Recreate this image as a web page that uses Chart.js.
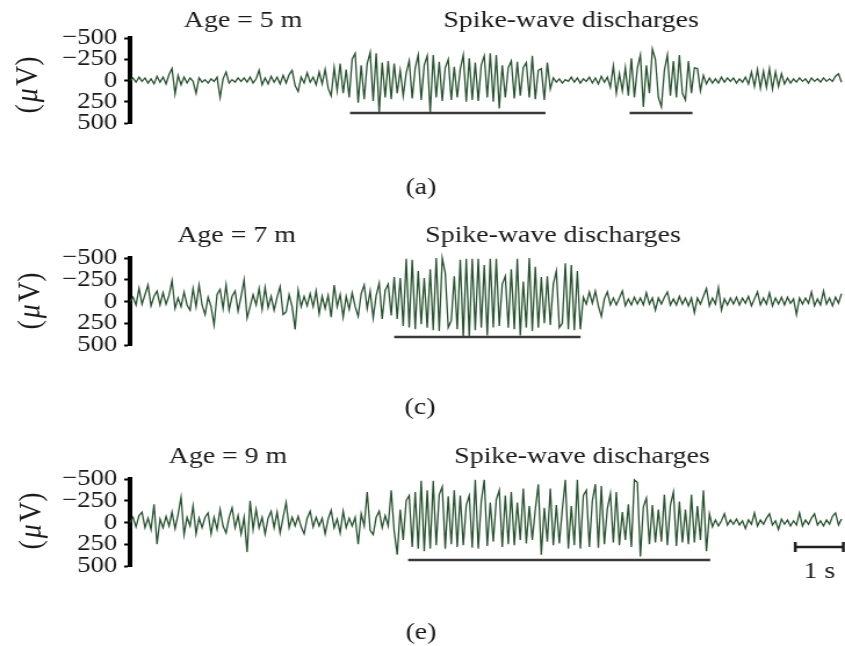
<!DOCTYPE html>
<html>
<head>
<meta charset="utf-8">
<script src="https://cdn.jsdelivr.net/npm/chart.js@4.4.1/dist/chart.umd.min.js"></script>
<style>
  html, body { margin: 0; padding: 0; background: #fff; width: 845px; height: 646px; overflow: hidden; }
  .panel { position: absolute; left: 0; width: 728px; transform: scaleX(1.16071); transform-origin: 0 0; }
  canvas { display: block; }
</style>
</head>
<body>
<div class="panel" style="top:0px;height:215px"><canvas id="ca" width="728" height="215"></canvas></div>
<div class="panel" style="top:215px;height:220px"><canvas id="cc" width="728" height="220"></canvas></div>
<div class="panel" style="top:435px;height:211px"><canvas id="ce" width="728" height="211"></canvas></div>
<script>
// ---- data (µV, sampled every dt seconds; negative = upward deflection) ----
const dt = 0.0625;
const yTicks = [-500, -250, 0, 250, 500];
const panelLetters = ['(a)', '(c)', '(e)'];
const ageLabels = ['Age = 5 m', 'Age = 7 m', 'Age = 9 m'];
const swdLabel = 'Spike-wave discharges';
const swdWindowsA = [[4.58, 8.65], [10.40, 11.71]];
const swdWindowsC = [[5.50, 9.38]];
const swdWindowsE = [[5.79, 12.08]];
const scaleBarLabel = '1 s';
const scaleBarSeconds = 1;

const eeg5m = [
  0, -30, 20, -40, 10, -30, 30, -20, 40, -50,
  20, -40, 40, -70, -140, 160, -60, 50, -40, 30,
  -30, 10, 150, -30, 20, -10, 30, -20, 10, -40,
  200, -20, -100, 30, -10, 20, -30, 10, -30, 20,
  -40, 30, -20, -120, 50, -30, 40, -50, 20, -40,
  40, -60, 30, -70, -120, 60, 130, -40, 30, -90,
  20, -40, 50, -100, 40, -130, 90, 180, -150, 120,
  -200, 150, -130, 200, -250, -320, 260, -180, 220, -200,
  -330, 240, -320, 380, -210, 200, -230, 220, -200, 150,
  -120, 180, -90, -230, 210, -150, -300, 230, -180, -290,
  380, -300, 200, -220, 240, -150, -250, 230, -160, 200,
  -130, -300, 250, -260, 230, -210, 240, -180, -290, 200,
  -320, 250, -300, 330, -180, 200, -150, -230, 210, -220,
  180, -150, -210, 200, -290, 220, -120, -140, 230, -210,
  100, -30, 20, -20, 30, -10, 10, -40, 20, -30,
  30, -20, 10, -40, 30, -30, 40, -50, 20, -40,
  80, -170, 150, -80, 120, -150, 180, -260, 200, -150,
  -300, 310, -180, 150, -370, -250, 200, 310, -120, -300,
  180, -230, 200, -300, 150, 230, -230, 150, -150, -140,
  120, -60, 40, -30, 30, -20, 30, -40, 20, -30,
  10, -30, 30, -20, 20, -40, 40, -100, 70, -130,
  90, -110, 80, -140, 100, -100, 70, -80, 40, -30,
  30, -20, 20, -30, 10, -20, 30, -30, 10, -20,
  20, -30, 10, -20, 10, -50, -80, 20
];

const eeg7m = [
  0, -50, 40, -150, 30, -80, -190, 50, -60, -120,
  40, -100, 30, -70, -240, 80, -40, 60, -110, 40,
  100, -150, 60, -190, 40, 150, -50, 60, 270, -80,
  -140, 80, -190, 100, -60, -120, 110, -60, -250, 190,
  60, -80, 40, -150, 90, -160, 70, -60, 100, -50,
  -170, 150, 120, -80, 60, 320, -130, 60, -60, 50,
  -90, 60, -120, 140, -60, 80, -70, 180, -190, 60,
  -80, 180, -60, 90, -100, 60, 170, -90, -190, 80,
  -120, 190, -70, -210, 200, -130, -200, 160, -280, 200,
  -270, 280, -490, 300, -480, 320, -350, 260, -270, 300,
  -370, 330, -500, 340, -500, -330, 300, 220, -290, 320,
  -480, 410, -490, 400, -490, 330, -490, 300, -420, 390,
  -490, 300, -490, 280, -200, -290, 300, -370, 320, -490,
  390, -230, 300, -500, 340, -400, 300, -280, 250, -290,
  270, -200, -350, 300, 250, -440, 320, -420, 330, -350,
  320, -50, 30, -110, 20, -120, 50, 170, -30, -110,
  40, -40, 40, -40, -120, 50, -30, 40, -50, 30,
  -40, 40, -100, 30, -40, 100, -40, 30, -50, -110,
  40, -30, 40, -60, 30, -40, 50, -40, 130, -40,
  30, -60, -150, 50, -40, 30, -160, 100, -30, 40,
  -40, 30, -50, 40, -40, 20, -60, 50, -30, -110,
  40, -40, 30, -100, 50, -40, 30, -50, 40, -50,
  20, -30, 150, -40, 30, -40, 20, -110, 50, -30,
  40, -120, 30, -40, 50, -50, 20, -90
];

const eeg9m = [
  0, -60, 50, -80, -120, 60, -50, 80, -210, 250,
  -40, 60, -70, 40, -120, 70, -90, -290, 140, -60,
  40, -190, 130, -50, 60, -60, -110, 130, -60, 80,
  -150, 40, 120, -60, -170, 60, -80, 130, -60, 340,
  -250, 80, -150, 60, -60, 130, -50, -130, 60, -120,
  120, -60, -230, 60, -60, 40, -70, 50, 130, -50,
  -130, 50, -60, 40, -50, 130, -40, -140, 60, -40,
  120, -130, 60, -50, 40, -60, 250, -100, 40, -350,
  90, 140, -60, -130, 60, -80, 40, -370, 100, 370,
  -150, 200, -250, -310, 280, -350, 300, -480, 330, -370,
  300, -480, 260, -320, -410, 300, -300, 250, -370, 280,
  -310, 260, -200, -310, 290, -490, 300, -240, -490, 270,
  -230, 220, -260, -370, 280, -310, 250, -350, 260, -230,
  200, -390, 240, -190, 200, -150, -440, 370, -170, 220,
  -390, 260, -200, 240, -150, -490, 300, -190, 260, -490,
  300, -310, -370, 280, -250, -440, 290, -420, 250, -160,
  -330, 230, -350, 260, -120, 200, -210, 280, -490, -460,
  390, -180, -280, 250, -200, 230, -150, 220, -320, 260,
  -200, -350, 270, -240, 230, -150, 250, -320, 230, -190,
  200, -370, 330, -100, 50, -30, 40, -20, -100, 30,
  -30, 20, -40, 30, -20, 70, -30, 20, -110, 40,
  -30, 20, -50, -100, 30, -20, 80, -40, 20, -30,
  40, -20, 30, -110, 40, -30, 20, -50, -100, 30,
  -20, 40, -30, 20, -70, -110, 30, -40
];

// ---- layout (canvas units; canvases are stretched horizontally by CSS) ----
const panels = [
  { id: 'ca', values: eeg5m, letter: panelLetters[0], age: ageLabels[0], windows: swdWindowsA,
    padTop: 38, padBottom: 92, ageX: 209.4, swdX: 492, titleY: 27, letterX: 362.7, letterY: 194,
    unitX: 24.6, unitY: 84, lineV: 382, scaleBar: null },
  { id: 'cc', values: eeg7m, letter: panelLetters[1], age: ageLabels[1], windows: swdWindowsC,
    padTop: 43, padBottom: 90, ageX: 203.8, swdX: 476.4, titleY: 27, letterX: 361.8, letterY: 199,
    unitX: 27, unitY: 85, lineV: 408, scaleBar: null },
  { id: 'ce', values: eeg9m, letter: panelLetters[2], age: ageLabels[2], windows: swdWindowsE,
    padTop: 44, padBottom: 80, ageX: 196.4, swdX: 501.4, titleY: 28, letterX: 362.7, letterY: 204,
    unitX: 27.5, unitY: 85, lineV: 431, scaleBar: { start: 13.85, v: 282, labelY: 143 } }
];

const SERIF = '"Liberation Serif", "Times New Roman", serif';
const INK = '#1c1a1a';

const decor = {
  id: 'decor',
  afterDraw(chart, args, o) {
    const ctx = chart.ctx;
    const xs = chart.scales.x, ys = chart.scales.y;
    ctx.save();
    ctx.fillStyle = INK;
    ctx.font = '24px ' + SERIF;
    ctx.textAlign = 'center';
    ctx.textBaseline = 'alphabetic';
    ctx.fillText(o.age, o.ageX, o.titleY);
    ctx.fillText(swdLabel, o.swdX, o.titleY);
    ctx.fillText(o.letter, o.letterX, o.letterY);

    // discharge underlines
    ctx.strokeStyle = '#3a3a3a';
    ctx.lineWidth = 2.5;
    const yl = ys.getPixelForValue(o.lineV);
    o.windows.forEach(([a, b]) => {
      ctx.beginPath();
      ctx.moveTo(xs.getPixelForValue(a), yl);
      ctx.lineTo(xs.getPixelForValue(b), yl);
      ctx.stroke();
    });

    // time scale bar
    if (o.scaleBar) {
      const x1 = xs.getPixelForValue(o.scaleBar.start);
      const x2 = xs.getPixelForValue(o.scaleBar.start + scaleBarSeconds);
      const yb = ys.getPixelForValue(o.scaleBar.v);
      ctx.strokeStyle = '#231f20';
      ctx.lineWidth = 2.5;
      ctx.beginPath();
      ctx.moveTo(x1, yb); ctx.lineTo(x2, yb);
      ctx.moveTo(x1, yb - 5); ctx.lineTo(x1, yb + 5);
      ctx.moveTo(x2, yb - 5); ctx.lineTo(x2, yb + 5);
      ctx.stroke();
      ctx.fillText(scaleBarLabel, (x1 + x2) / 2, o.scaleBar.labelY);
    }

    // rotated unit label (µV)
    ctx.translate(o.unitX, o.unitY);
    ctx.rotate(-Math.PI / 2);
    ctx.textAlign = 'left';
    ctx.textBaseline = 'middle';
    const parts = [['(', ''], ['\u03BC', 'italic '], ['V)', '']];
    let total = 0;
    const widths = parts.map(([t, s]) => { ctx.font = s + '28px ' + SERIF; const w = ctx.measureText(t).width + 2; total += w; return w; });
    let cx = -total / 2;
    parts.forEach(([t, s], i) => { ctx.font = s + '28px ' + SERIF; ctx.fillText(t, cx, 0); cx += widths[i]; });
    ctx.restore();
  }
};

panels.forEach(p => {
  new Chart(document.getElementById(p.id), {
    type: 'line',
    data: {
      datasets: [{
        data: p.values.map((v, i) => ({ x: i * dt, y: v })),
        borderColor: '#27532f',
        borderWidth: 1.3,
        pointRadius: 0,
        tension: 0,
        fill: false,
        clip: false
      }]
    },
    options: {
      responsive: false,
      animation: false,
      events: [],
      layout: { padding: { top: p.padTop, bottom: p.padBottom, left: 0, right: 3 } },
      plugins: {
        legend: { display: false },
        tooltip: { enabled: false },
        decor: p
      },
      scales: {
        x: { type: 'linear', display: false, min: 0, max: (eeg5m.length - 1) * dt },
        y: {
          type: 'linear', reverse: true, min: -500, max: 500,
          afterFit(s) { s.width = 112; },
          afterBuildTicks(s) { s.ticks = yTicks.map(v => ({ value: v })); },
          ticks: {
            autoSkip: false, padding: 6, color: INK,
            font: { family: SERIF, size: 23 },
            callback: v => (v < 0 ? '\u2212' + (-v) : String(v))
          },
          grid: { drawOnChartArea: false, drawTicks: true, tickLength: 5, tickWidth: 2, color: '#000' },
          border: { display: true, color: '#000', width: 4 }
        }
      }
    },
    plugins: [decor]
  });
});
</script>
</body>
</html>
